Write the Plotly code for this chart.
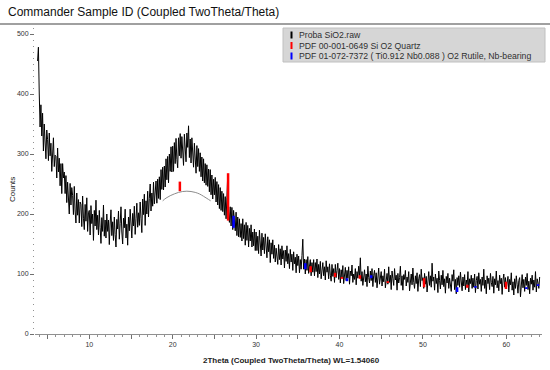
import numpy as np
import plotly.graph_objects as go

# ---------------- data ----------------
two_theta_start = 3.8
two_theta_step = 0.1
counts = [
    455, 478,
    400, 345, 382, 330, 368, 305, 350, 322, 292, 340,
    324, 289, 335, 297, 318, 271, 310, 327, 279, 298,
    296, 260, 310, 270, 293, 247, 284, 234, 284, 260,
    270, 234, 264, 219, 253, 234, 200, 251, 215, 244,
    231, 199, 246, 205, 185, 235, 198, 224, 185, 220,
    216, 179, 230, 193, 174, 216, 188, 227, 171, 202,
    206, 165, 214, 184, 200, 156, 206, 180, 223, 174,
    198, 165, 206, 177, 151, 194, 171, 215, 163, 190,
    160, 200, 171, 190, 149, 185, 207, 164, 187, 156,
    195, 166, 145, 191, 175, 205, 158, 184, 212, 170,
    150, 193, 177, 208, 160, 183, 148, 195, 172, 208,
    177, 160, 201, 180, 213, 166, 192, 218, 178, 202,
    181, 220, 193, 169, 225, 199, 233, 181, 222, 200,
    238, 195, 226, 250, 205, 235, 213, 253, 217, 244,
    255, 218, 258, 226, 262, 224, 274, 241, 278, 240,
    280, 245, 292, 257, 296, 252, 300, 271, 312, 270,
    313, 271, 319, 284, 326, 291, 277, 327, 297, 334,
    293, 329, 301, 281, 333, 305, 287, 335, 311, 347,
    294, 325, 285, 327, 300, 278, 318, 291, 268, 314,
    279, 309, 271, 302, 262, 295, 255, 292, 252, 284,
    248, 282, 246, 275, 237, 274, 232, 265, 225, 258,
    232, 261, 220, 254, 215, 249, 209, 244, 206, 238,
    204, 234, 198, 229, 192, 228, 266, 204, 186, 212,
    180, 211, 174, 206, 186, 172, 203, 164, 195, 162,
    192, 161, 184, 155, 192, 159, 182, 148, 186, 156,
    181, 145, 176, 155, 182, 145, 170, 147, 175, 139,
    170, 139, 163, 134, 173, 148, 130, 168, 140, 161,
    134, 167, 142, 127, 162, 137, 157, 119, 152, 133,
    157, 126, 148, 120, 143, 133, 116, 149, 124, 142,
    115, 147, 125, 139, 110, 140, 121, 147, 117, 134,
    109, 141, 120, 133, 106, 137, 117, 128, 102, 133,
    114, 130, 102, 124, 108, 131, 158, 108, 125, 100,
    124, 106, 129, 101, 117, 124, 97, 119, 103, 124,
    97, 119, 104, 125, 94, 116, 100, 121, 92, 112,
    119, 97, 112, 90, 122, 103, 112, 92, 117, 98,
    88, 116, 96, 109, 86, 116, 94, 106, 118, 91,
    109, 85, 107, 95, 114, 84, 103, 111, 89, 106,
    93, 112, 83, 105, 97, 115, 86, 100, 91, 109,
    82, 104, 93, 113, 96, 127, 88, 104, 81, 99,
    107, 87, 100, 79, 113, 94, 85, 105, 89, 109,
    79, 98, 106, 86, 102, 77, 96, 110, 83, 99,
    104, 80, 97, 87, 108, 77, 95, 101, 83, 112,
    86, 98, 74, 105, 92, 81, 109, 90, 98, 73,
    101, 85, 94, 113, 81, 97, 73, 99, 91, 106,
    80, 95, 86, 104, 72, 93, 100, 82, 110, 86,
    76, 97, 84, 102, 71, 92, 99, 79, 108, 89,
    94, 76, 101, 83, 96, 70, 90, 104, 81, 97,
    78, 118, 88, 95, 73, 100, 84, 93, 69, 105,
    89, 75, 98, 82, 106, 79, 92, 68, 96, 85,
    101, 76, 93, 83, 71, 99, 88, 107, 74, 91,
    67, 94, 81, 97, 78, 103, 86, 72, 95, 80,
    99, 74, 90, 82, 104, 70, 92, 84, 98, 76,
    93, 78, 100, 69, 89, 96, 75, 102, 83, 91,
    71, 95, 81, 108, 76, 90, 67, 97, 84, 93,
    74, 101, 86, 79, 96, 68, 92, 82, 105, 77,
    89, 72, 98, 84, 93, 66, 90, 100, 78, 94,
    75, 88, 96, 70, 91, 82, 102, 73, 87, 65,
    92, 76, 97, 83, 68, 89, 94, 62, 86, 99,
    77, 91, 71, 95, 81, 101, 74, 88, 67, 93,
    83, 98, 73, 90, 78, 104, 70, 92, 85, 76,
    95,
]

# amorphous hump arc (grey)
arc_x = [18.8, 19.2, 19.7, 20.2, 20.7, 21.2, 21.7, 22.2, 22.7, 23.2, 23.7, 24.1, 24.55]
arc_y = [222, 226.5, 230.5, 233.5, 236, 237.5, 238, 237.5, 236, 233.5, 229.5, 226, 222]

# PDF 00-001-0649 SiO2 Quartz sticks
quartz_pos = [20.86, 26.64, 36.54, 39.47, 40.29, 42.45, 45.79, 50.14, 55.33, 59.96]
quartz_lo = [238, 189, 103, 95, 92, 92, 85, 78, 77, 75]
quartz_hi = [254, 268, 113, 102, 95, 98, 88, 93, 82, 87]

# PDF 01-072-7372 Rutile, Nb-bearing sticks
rutile_pos = [27.3, 35.9, 40.9, 43.8, 54.1, 56.3, 62.4, 63.8]
rutile_lo = [177, 108, 88, 93, 70, 77, 75, 80]
rutile_hi = [197, 118, 93, 98, 78, 80, 78, 83]

legend_labels = [
    "Proba SiO2.raw",
    "PDF 00-001-0649 Si O2 Quartz",
    "PDF 01-072-7372 ( Ti0.912 Nb0.088 ) O2 Rutile, Nb-bearing",
]
legend_colors = ["#000000", "#ff0000", "#0000ff"]

x_ticks = [5, 10, 15, 20, 25, 30, 35, 40, 45, 50, 55, 60]
x_ticktext = ["", "10", "", "20", "", "30", "", "40", "", "50", "", "60"]
y_ticks = [0, 100, 200, 300, 400, 500]

# ---------------- figure ----------------
W, H = 550, 370
L, R, T, B = 35, 8, 28, 36
PW, PH = W - L - R, H - T - B


def px(xp):
    return (xp - L) / PW


def py(yp):
    return (H - B - yp) / PH


tt = two_theta_start + two_theta_step * np.arange(len(counts))

fig = go.Figure()
fig.add_trace(go.Scatter(x=tt, y=counts, mode="lines",
                         line=dict(color="#000000", width=1),
                         showlegend=False, hoverinfo="skip"))
fig.add_trace(go.Scatter(x=arc_x, y=arc_y, mode="lines", line_shape="spline",
                         line=dict(color="#8c8c8c", width=1),
                         showlegend=False, hoverinfo="skip"))


def sticks(pos, lo, hi):
    xs, ys = [], []
    for p, a, b in zip(pos, lo, hi):
        xs += [p, p, None]
        ys += [a, b, None]
    return xs, ys


qx, qy = sticks(quartz_pos, quartz_lo, quartz_hi)
rx, ry = sticks(rutile_pos, rutile_lo, rutile_hi)
fig.add_trace(go.Scatter(x=qx, y=qy, mode="lines", line=dict(color="#ff0000", width=2.5),
                         showlegend=False, hoverinfo="skip"))
fig.add_trace(go.Scatter(x=rx, y=ry, mode="lines", line=dict(color="#0000ff", width=2.5),
                         showlegend=False, hoverinfo="skip"))

font_family = "Liberation Sans, Arial, sans-serif"

shapes = []
annotations = []

# title underline
shapes.append(dict(type="line", xref="paper", yref="paper",
                   x0=px(0), x1=px(W), y0=py(24), y1=py(24),
                   line=dict(color="#a0a0a0", width=2)))
# legend box
shapes.append(dict(type="rect", xref="paper", yref="paper",
                   x0=px(283), x1=px(545), y0=py(62), y1=py(28),
                   fillcolor="#d6d6d6", line=dict(color="#c0c0c0", width=1), layer="above"))
row_y = [35, 45.5, 56]
for lab, col, ry_ in zip(legend_labels, legend_colors, row_y):
    shapes.append(dict(type="rect", xref="paper", yref="paper",
                       x0=px(290.5), x1=px(292.5), y0=py(ry_ + 3.5), y1=py(ry_ - 3.5),
                       fillcolor=col, line=dict(width=0), layer="above"))
    annotations.append(dict(text=lab, xref="paper", yref="paper",
                            x=px(297), y=py(ry_), xanchor="left", yanchor="middle",
                            showarrow=False,
                            font=dict(family=font_family, size=8.7, color="#303030")))

annotations.append(dict(text="Commander Sample ID (Coupled TwoTheta/Theta)",
                        xref="paper", yref="paper", x=px(6), y=py(12),
                        xanchor="left", yanchor="middle", showarrow=False,
                        font=dict(family=font_family, size=12, color="#111111")))
annotations.append(dict(text="Counts", xref="paper", yref="paper", x=px(12), y=py(190),
                        xanchor="center", yanchor="middle", textangle=-90, showarrow=False,
                        font=dict(family=font_family, size=8, color="#222222")))
annotations.append(dict(text="<b>2Theta (Coupled TwoTheta/Theta) WL=1.54060</b>",
                        xref="paper", yref="paper", x=px(291), y=py(360),
                        xanchor="center", yanchor="middle", showarrow=False,
                        font=dict(family=font_family, size=8, color="#222222")))

fig.update_layout(
    width=W, height=H,
    margin=dict(l=L, r=R, t=T, b=B, pad=0),
    paper_bgcolor="white", plot_bgcolor="white",
    shapes=shapes, annotations=annotations,
    showlegend=False,
    font=dict(family=font_family),
    xaxis=dict(range=[3.49, 64.28], showgrid=False, zeroline=False,
               showline=True, linecolor="#909090", linewidth=1,
               tickmode="array", tickvals=x_ticks, ticktext=x_ticktext,
               ticks="outside", ticklen=4, tickcolor="#707070", tickwidth=1,
               tickfont=dict(size=7, color="#333333", family=font_family),
               minor=dict(dtick=1, ticklen=2, tickcolor="#909090", ticks="outside")),
    yaxis=dict(range=[0, 510], showgrid=False, zeroline=False,
               showline=False,
               tickmode="array", tickvals=y_ticks,
               ticks="outside", ticklen=4, tickcolor="#707070", tickwidth=1,
               tickfont=dict(size=7, color="#333333", family=font_family),
               minor=dict(dtick=10, ticklen=1.5, tickcolor="#909090", ticks="outside")),
)

fig.write_html("out.html",
               config={"displayModeBar": False, "staticPlot": True},
               post_script="document.body.style.margin='0px';document.body.style.overflow='hidden';")
